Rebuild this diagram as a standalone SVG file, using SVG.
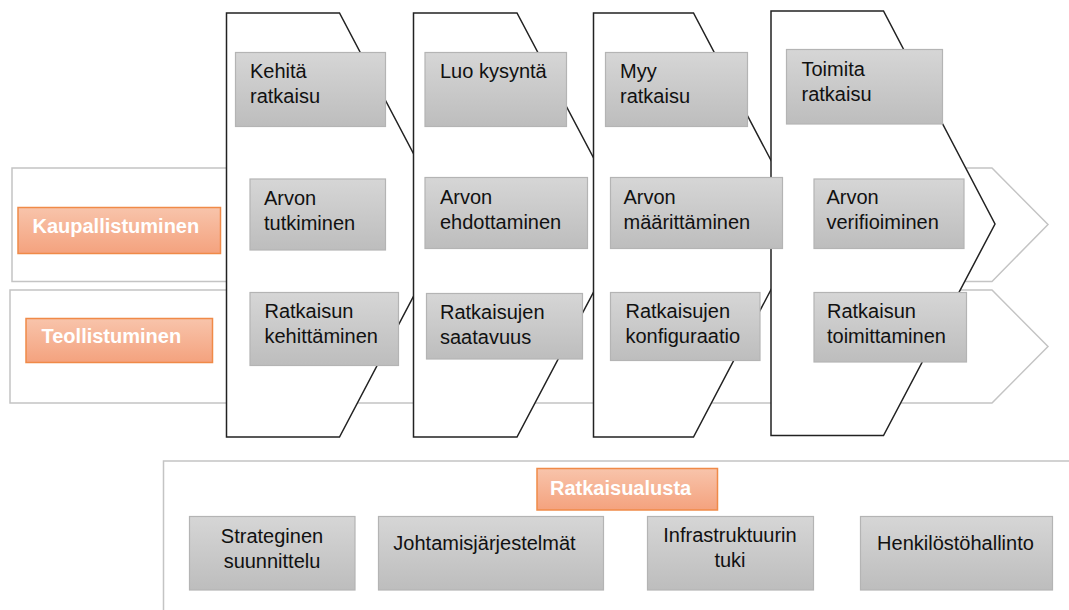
<svg xmlns="http://www.w3.org/2000/svg" width="1069" height="610" viewBox="0 0 1069 610">
<defs>
<linearGradient id="gGray" x1="0" y1="0" x2="0" y2="1">
<stop offset="0" stop-color="#d6d6d6"/>
<stop offset="1" stop-color="#bdbdbd"/>
</linearGradient>
<linearGradient id="gOrange" x1="0" y1="0" x2="0" y2="1">
<stop offset="0" stop-color="#f8c4ab"/>
<stop offset="1" stop-color="#f4a27e"/>
</linearGradient>
</defs>
<style>
.band{fill:#ffffff;stroke:#c4c4c4;stroke-width:1.5}
.chev{fill:#ffffff;stroke:#222222;stroke-width:1.5}
.box{fill:url(#gGray);stroke:#b4b4b4;stroke-width:1.2}
.tag{fill:url(#gOrange);stroke:#f08a48;stroke-width:1.5}
.t{font-family:"Liberation Sans",Arial,sans-serif;font-size:20px;fill:#111111}
.tc{font-family:"Liberation Sans",Arial,sans-serif;font-size:20px;fill:#111111;text-anchor:middle}
.tw{font-family:"Liberation Sans",Arial,sans-serif;font-size:20px;font-weight:bold;fill:#ffffff}
</style>
<rect width="1069" height="610" fill="#ffffff"/>
<g id="connectors"></g>
<g id="band-kaupallistuminen">
<path class="band" d="M12,168 H992 L1048,224.5 L992,281.5 H12 Z"/>
</g>
<g id="band-teollistuminen">
<path class="band" d="M10,290 H992 L1048,346.5 L992,403 H10 Z"/>
</g>
<g id="chevron-1">
<path class="chev" d="M226.5,13 H339.5 L451,225 L339.5,437 H226.5 Z"/>
</g>
<g id="chevron-2">
<path class="chev" d="M413.5,13 H517 L629,225 L517,437 H413.5 Z"/>
</g>
<g id="chevron-3">
<path class="chev" d="M593.5,13 H693.5 L805,225 L693.5,437 H593.5 Z"/>
</g>
<g id="chevron-4">
<path class="chev" d="M771,11 H883.5 L995,224 L883.5,435.5 H771 Z"/>
</g>
<g id="label-kaupallistuminen">
<rect class="tag" x="18" y="207.5" width="202.5" height="46"/>
<text class="tw" x="32.5" y="233">Kaupallistuminen</text>
</g>
<g id="label-teollistuminen">
<rect class="tag" x="26" y="318.5" width="186.5" height="44"/>
<text class="tw" x="41.5" y="343">Teollistuminen</text>
</g>
<g id="box-kehita">
<rect class="box" x="235.5" y="52.5" width="150" height="74"/>
<text class="t" x="250" y="77.5">Kehitä</text>
<text class="t" x="250" y="103">ratkaisu</text>
</g>
<g id="box-arvon-tutkiminen">
<rect class="box" x="250" y="179" width="135.5" height="71"/>
<text class="t" x="264" y="205">Arvon</text>
<text class="t" x="264" y="230">tutkiminen</text>
</g>
<g id="box-ratkaisun-kehittaminen">
<rect class="box" x="250" y="292.5" width="148.5" height="73"/>
<text class="t" x="264.5" y="317.5">Ratkaisun</text>
<text class="t" x="264.5" y="342.5">kehittäminen</text>
</g>
<g id="box-luo-kysynta">
<rect class="box" x="425" y="52.5" width="141.5" height="74"/>
<text class="t" x="440" y="77.5">Luo kysyntä</text>
</g>
<g id="box-arvon-ehdottaminen">
<rect class="box" x="425" y="177.5" width="162.5" height="71"/>
<text class="t" x="440" y="204">Arvon</text>
<text class="t" x="440" y="229">ehdottaminen</text>
</g>
<g id="box-ratkaisujen-saatavuus">
<rect class="box" x="426.5" y="293.5" width="156" height="65.5"/>
<text class="t" x="440" y="318.5">Ratkaisujen</text>
<text class="t" x="440" y="343.5">saatavuus</text>
</g>
<g id="box-myy">
<rect class="box" x="605.5" y="52.5" width="142" height="74"/>
<text class="t" x="620" y="77.5">Myy</text>
<text class="t" x="620" y="103">ratkaisu</text>
</g>
<g id="box-arvon-maarittaminen">
<rect class="box" x="610.5" y="177.5" width="172" height="71"/>
<text class="t" x="623.5" y="204">Arvon</text>
<text class="t" x="623.5" y="229">määrittäminen</text>
</g>
<g id="box-ratkaisujen-konfiguraatio">
<rect class="box" x="610.5" y="292.5" width="149.5" height="68"/>
<text class="t" x="625.5" y="318">Ratkaisujen</text>
<text class="t" x="625.5" y="343">konfiguraatio</text>
</g>
<g id="box-toimita">
<rect class="box" x="786.5" y="49.5" width="156" height="74.5"/>
<text class="t" x="801.5" y="76">Toimita</text>
<text class="t" x="801.5" y="101">ratkaisu</text>
</g>
<g id="box-arvon-verifioiminen">
<rect class="box" x="814" y="179" width="150" height="69.5"/>
<text class="t" x="826.5" y="204">Arvon</text>
<text class="t" x="826.5" y="229">verifioiminen</text>
</g>
<g id="box-ratkaisun-toimittaminen">
<rect class="box" x="814" y="292.5" width="152.5" height="69.5"/>
<text class="t" x="827" y="318">Ratkaisun</text>
<text class="t" x="827" y="343">toimittaminen</text>
</g>
<g id="frame-ratkaisualusta">
<path d="M163.5,610 V461 H1069" fill="none" stroke="#c4c4c4" stroke-width="1.5"/>
</g>
<g id="label-ratkaisualusta">
<rect class="tag" x="537" y="468.5" width="180.5" height="41.5"/>
<text class="tw" x="550" y="495">Ratkaisualusta</text>
</g>
<g id="box-strateginen">
<rect class="box" x="189.5" y="516.5" width="165.5" height="73.5"/>
<text class="tc" x="272" y="543">Strateginen</text>
<text class="tc" x="272" y="568">suunnittelu</text>
</g>
<g id="box-johtamis">
<rect class="box" x="378.5" y="516.5" width="225" height="73.5"/>
<text class="tc" x="484.5" y="550">Johtamisjärjestelmät</text>
</g>
<g id="box-infra">
<rect class="box" x="647.5" y="516.5" width="166" height="73.5"/>
<text class="tc" x="730" y="541.5">Infrastruktuurin</text>
<text class="tc" x="730" y="567">tuki</text>
</g>
<g id="box-henkilosto">
<rect class="box" x="860.5" y="516.5" width="192" height="73.5"/>
<text class="tc" x="955.5" y="550">Henkilöstöhallinto</text>
</g>
</svg>
